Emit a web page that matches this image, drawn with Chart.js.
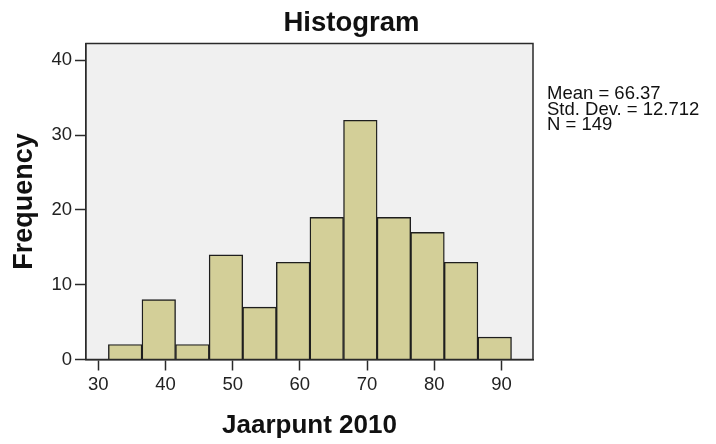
<!DOCTYPE html>
<html>
<head>
<meta charset="utf-8">
<script src="https://cdn.jsdelivr.net/npm/chart.js@4"></script>
<style>
  html, body { margin: 0; padding: 0; background: #ffffff; }
  #wrap { width: 716px; height: 444px; }
</style>
</head>
<body>
<div id="wrap"><canvas id="chartHist"></canvas></div>
<script>
/* ===================================
   Histogram - Jaarpunt 2010
   =================================== */

// bin centres (bins are 5 wide: 31.5-36.5, 36.5-41.5, ...)
const binCenters = [34, 39, 44, 49, 54, 59, 64, 69, 74, 79, 84, 89];
const frequencies = [2, 8, 2, 14, 7, 13, 19, 32, 19, 17, 13, 3];

const xTicks = [30, 40, 50, 60, 70, 80, 90];
const yTicks = [0, 10, 20, 30, 40];

const statLines = ['Mean = 66.37', 'Std. Dev. = 12.712', 'N = 149'];

const chartTitle = 'Histogram';
const xTitle = 'Jaarpunt 2010';
const yTitle = 'Frequency';

const fontFamily = '"Liberation Sans", Arial, sans-serif';
const axisColor = '#2a2a2a';

// grey plot panel + black frame, then title and stats text
const panelPlugin = {
  id: 'panel',
  beforeDatasetsDraw(chart) {
    const { ctx, chartArea: a } = chart;
    ctx.save();
    ctx.fillStyle = '#f0f0f0';
    ctx.fillRect(a.left, a.top, a.right - a.left, a.bottom - a.top);
    ctx.restore();
  },
  afterDatasetsDraw(chart) {
    const { ctx, chartArea: a } = chart;
    ctx.save();
    ctx.strokeStyle = axisColor;
    ctx.lineWidth = 1.5;
    ctx.strokeRect(a.left, a.top, a.right - a.left, a.bottom - a.top);
    ctx.restore();
  },
  afterDraw(chart) {
    const { ctx, chartArea: a } = chart;
    ctx.save();
    ctx.fillStyle = '#111111';
    ctx.textBaseline = 'alphabetic';

    ctx.font = 'bold 27.5px ' + fontFamily;
    ctx.textAlign = 'center';
    ctx.fillText(chartTitle, 351.5, 30.5);

    ctx.font = '18.5px ' + fontFamily;
    ctx.textAlign = 'left';
    statLines.forEach((line, i) => {
      ctx.fillText(line, a.right + 14, 99 + i * 15.7);
    });
    ctx.restore();
  }
};

const ctx = document.getElementById('chartHist').getContext('2d');

new Chart(ctx, {

  type: 'bar',

  data: {
    datasets: [{
      label: 'Frequency',
      data: binCenters.map((c, i) => ({ x: c, y: frequencies[i] })),
      backgroundColor: '#d3cf98',
      borderColor: '#1e1e1e',
      borderWidth: 1.4,
      barPercentage: 1,
      categoryPercentage: 1
    }]
  },

  options: {
    responsive: true,
    maintainAspectRatio: false,
    animation: false,
    layout: {
      padding: { left: 0, right: 183, top: 43.5, bottom: 0 }
    },
    plugins: {
      legend: { display: false },
      tooltip: { enabled: false }
    },
    scales: {
      x: {
        type: 'linear',
        offset: false,
        min: 28.17,
        max: 94.7,
        afterBuildTicks: scale => { scale.ticks = xTicks.map(v => ({ value: v })); },
        afterFit: scale => { scale.height = 84.5; },
        grid: {
          offset: false,
          drawOnChartArea: false,
          drawTicks: true,
          tickLength: 11,
          tickColor: axisColor,
          tickWidth: 1.5
        },
        border: { color: axisColor, width: 1.5 },
        ticks: {
          color: '#222222',
          padding: 3,
          maxRotation: 0,
          font: { family: fontFamily, size: 18.5 }
        },
        title: {
          display: true,
          text: xTitle,
          color: '#111111',
          padding: { top: 0, bottom: 2.4 },
          font: { family: fontFamily, size: 26, weight: 'bold' }
        }
      },
      y: {
        min: 0,
        max: 42.26,
        afterBuildTicks: scale => { scale.ticks = yTicks.map(v => ({ value: v })); },
        afterFit: scale => { scale.width = 86; },
        grid: {
          drawOnChartArea: false,
          drawTicks: true,
          tickLength: 11,
          tickColor: axisColor,
          tickWidth: 1.5
        },
        border: { color: axisColor, width: 1.5 },
        ticks: {
          color: '#222222',
          padding: 3,
          font: { family: fontFamily, size: 18.5 }
        },
        title: {
          display: true,
          text: yTitle,
          color: '#111111',
          padding: { top: 8, bottom: 0 },
          font: { family: fontFamily, size: 27, weight: 'bold' }
        }
      }
    }
  },

  plugins: [panelPlugin]

});
</script>
</body>
</html>
